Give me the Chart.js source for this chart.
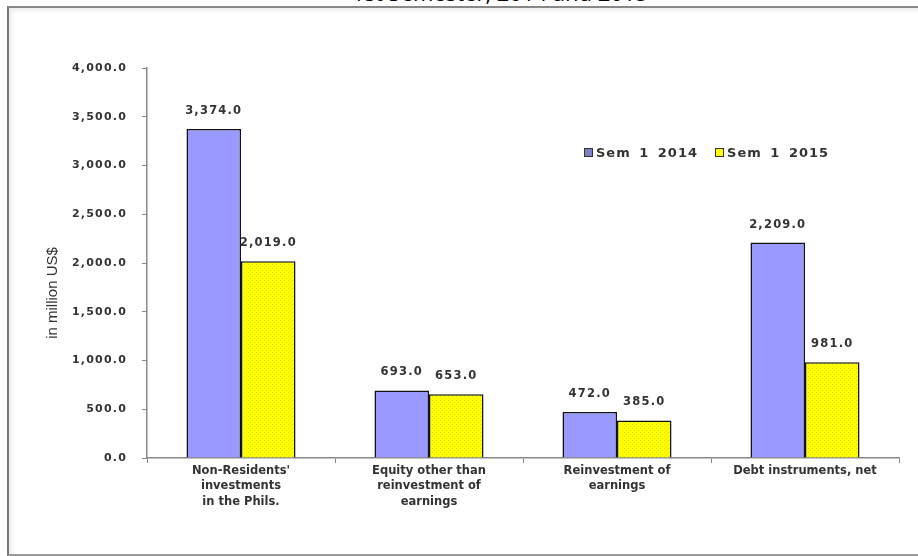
<!DOCTYPE html>
<html lang="en">
  <head>
    <meta charset="UTF-8" />
    <title>Non-Residents' investments</title>
    <script src="https://cdn.jsdelivr.net/npm/chart.js@4"></script>
    <style>
      body { margin: 0; background: #fff; }
      .wrap { position: relative; width: 918px; height: 556px; overflow: hidden; }
      .frame {
        position: absolute; left: 7px; top: 6px; width: 911px; height: 546px;
        border-left: 2px solid #777; border-top: 2px solid #888; border-bottom: 2px solid #999;
        box-shadow: inset 3px 3px 4px rgba(0, 0, 0, 0.07);
      }
      .title {
        position: absolute; left: 0; width: 1000px; top: -19px;
        font: 22px "Open Sans"; line-height: 22px; text-align: center; color: #000;
      }
      canvas { position: absolute; left: 0; top: 0; }
      .legend {
        position: absolute; left: 584px; top: 145px;
        font: bold 13px "DejaVu Sans"; color: #333; letter-spacing: 1px; word-spacing: 3px;
        white-space: nowrap; line-height: 16px;
      }
      .legend span.box {
        display: inline-block; width: 7px; height: 7px; border: 1px solid #333;
        margin-right: 3px; vertical-align: 0px;
      }
    </style>
  </head>
  <body>
    <div class="wrap">
      <div class="title">1st Semester, 2014 and 2015</div>
      <div class="frame"></div>
      <canvas id="fdiChart" width="918" height="556"></canvas>
      <div class="legend">
        <span class="box" style="background:#7f7fc4"></span>Sem 1 2014&nbsp;
        <span class="box" style="background:#ffff00"></span>Sem 1 2015
      </div>
    </div>
    <script>
      const categories = [
        ["Non-Residents'", "investments", "in the Phils."],
        ["Equity other than", "reinvestment of", "earnings"],
        ["Reinvestment of", "earnings"],
        ["Debt instruments, net"],
      ];
      const seriesNames = ["Sem 1 2014", "Sem 1 2015"];
      const sem2014 = [3374, 693, 472, 2209];
      const sem2015 = [2019, 653, 385, 981];
      const yTicks = [0, 500, 1000, 1500, 2000, 2500, 3000, 3500, 4000];

      function fmt(v) {
        return v.toLocaleString("en-US", { minimumFractionDigits: 1, maximumFractionDigits: 1 });
      }

      const ctx = document.querySelector("#fdiChart").getContext("2d");

      // dotted yellow fill
      const pc = document.createElement("canvas");
      pc.width = 4;
      pc.height = 4;
      const p = pc.getContext("2d");
      p.fillStyle = "#ffff00";
      p.fillRect(0, 0, 4, 4);
      p.fillStyle = "#dede00";
      p.fillRect(0, 0, 1, 1);
      p.fillRect(2, 2, 1, 1);
      const yellowFill = ctx.createPattern(pc, "repeat");

      const valueLabels = {
        id: "valueLabels",
        afterDatasetsDraw(chart) {
          const c = chart.ctx;
          c.letterSpacing = "1.2px";
          c.save();
          c.font = 'bold 11.5px "DejaVu Sans"';
          c.fillStyle = "#333";
          c.textAlign = "center";
          c.textBaseline = "middle";
          chart.data.datasets.forEach(function (ds, i) {
            chart.getDatasetMeta(i).data.forEach(function (bar, j) {
              c.fillText(fmt(ds.data[j]), bar.x, bar.y - 18);
            });
          });
          c.restore();
        },
        afterDraw(chart) {
          const c = chart.ctx;
          c.letterSpacing = "0px";
          c.save();
          c.translate(53, 293);
          c.rotate(-Math.PI / 2);
          c.font = '15px "Liberation Sans"';
          c.fillStyle = "#333";
          c.textAlign = "center";
          c.textBaseline = "middle";
          c.fillText("in million US$", 0, 0);
          c.restore();
        },
      };

      new Chart(ctx, {
        type: "bar",
        data: {
          labels: categories,
          datasets: [
            {
              label: seriesNames[0],
              data: sem2014,
              backgroundColor: "#9999ff",
              borderColor: "#111",
              borderWidth: 1.5,
            },
            {
              label: seriesNames[1],
              data: sem2015,
              backgroundColor: yellowFill,
              borderColor: "#111",
              borderWidth: 1.5,
            },
          ],
        },
        options: {
          responsive: false,
          animation: false,
          layout: { padding: { top: 68, right: 19, bottom: 0, left: 0 } },
          categoryPercentage: 0.58,
          barPercentage: 1,
          plugins: { legend: { display: false }, tooltip: { enabled: false } },
          scales: {
            x: {
              grid: { drawOnChartArea: false, drawTicks: true, tickLength: 5, color: "#888" },
              border: { color: "#888", width: 1.5 },
              ticks: {
                padding: 0,
                color: "#333",
                maxRotation: 0,
                autoSkip: false,
                font: { family: "DejaVu Sans", size: 11.5, weight: "bold", lineHeight: 1.35 },
              },
              afterFit(scale) {
                scale.height = 98;
              },
            },
            y: {
              min: 0,
              max: 4000,
              afterBuildTicks(scale) {
                scale.ticks = yTicks.map(function (v) { return { value: v }; });
              },
              grid: { drawOnChartArea: false, drawTicks: true, tickLength: 5, color: "#888" },
              border: { color: "#888", width: 1.5 },
              ticks: {
                z: 1,
                padding: 15,
                color: "#333",
                font: { family: "DejaVu Sans", size: 11, weight: "bold" },
                callback: function (v) { return fmt(v); },
              },
              afterFit(scale) {
                scale.width = 147;
              },
            },
          },
        },
        plugins: [valueLabels],
      });
    </script>
  </body>
</html>
